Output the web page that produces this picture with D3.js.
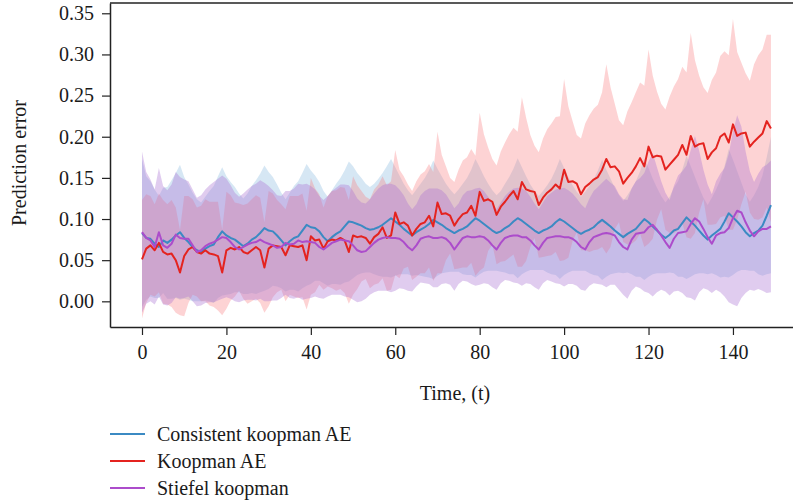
<!DOCTYPE html>
<html><head><meta charset="utf-8">
<script src="https://cdn.jsdelivr.net/npm/d3@7"></script>
<style>
body{margin:0;background:#fff}
svg{display:block}
text{font-family:"Liberation Serif","Times New Roman",serif;fill:#1a1a1a}
</style>
</head><body>
<svg id="chart" width="793" height="503"></svg>
<script>
const seriesNames = ["Consistent koopman AE", "Koopman AE", "Stiefel koopman"];
const yTicks = [0, 0.05, 0.10, 0.15, 0.20, 0.25, 0.30, 0.35];
const xTicks = [0, 20, 40, 60, 80, 100, 120, 140];
const timeSteps = d3.range(150);

const consistentMean = [
0.083,0.077,0.076,0.070,0.066,0.074,0.071,0.075,0.080,0.084,
0.077,0.072,0.066,0.062,0.060,0.064,0.067,0.069,0.078,0.085,
0.080,0.077,0.075,0.071,0.067,0.070,0.075,0.078,0.083,0.089,
0.086,0.085,0.080,0.074,0.068,0.073,0.077,0.079,0.086,0.093,
0.090,0.089,0.085,0.078,0.073,0.078,0.082,0.085,0.091,0.097,
0.096,0.094,0.092,0.089,0.087,0.088,0.090,0.093,0.097,0.101,
0.097,0.093,0.088,0.084,0.080,0.084,0.087,0.090,0.094,0.099,
0.096,0.093,0.089,0.086,0.083,0.086,0.088,0.091,0.096,0.101,
0.098,0.094,0.090,0.086,0.083,0.085,0.089,0.092,0.097,0.101,
0.098,0.094,0.090,0.086,0.083,0.086,0.088,0.091,0.096,0.100,
0.097,0.093,0.089,0.085,0.082,0.085,0.087,0.090,0.095,0.099,
0.095,0.091,0.086,0.082,0.078,0.082,0.085,0.088,0.094,0.100,
0.096,0.091,0.086,0.081,0.077,0.081,0.086,0.088,0.095,0.102,
0.097,0.092,0.086,0.080,0.075,0.080,0.084,0.088,0.097,0.107,
0.102,0.097,0.091,0.084,0.079,0.083,0.086,0.092,0.104,0.117];
const consistentStd = [
0.090,0.075,0.070,0.066,0.062,0.064,0.068,0.072,0.076,0.082,
0.074,0.070,0.066,0.062,0.060,0.063,0.067,0.071,0.074,0.078,
0.072,0.068,0.064,0.060,0.058,0.061,0.065,0.069,0.072,0.076,
0.071,0.066,0.062,0.058,0.056,0.059,0.063,0.067,0.070,0.074,
0.069,0.064,0.060,0.056,0.054,0.057,0.061,0.065,0.068,0.073,
0.068,0.062,0.058,0.054,0.052,0.055,0.059,0.063,0.067,0.072,
0.066,0.060,0.055,0.051,0.049,0.052,0.056,0.060,0.065,0.072,
0.065,0.059,0.054,0.050,0.047,0.050,0.055,0.059,0.064,0.072,
0.065,0.058,0.053,0.049,0.046,0.049,0.054,0.059,0.064,0.073,
0.065,0.058,0.052,0.048,0.045,0.048,0.053,0.058,0.064,0.073,
0.065,0.058,0.052,0.048,0.045,0.048,0.053,0.058,0.064,0.073,
0.065,0.058,0.052,0.047,0.044,0.047,0.052,0.058,0.064,0.074,
0.066,0.058,0.052,0.047,0.043,0.046,0.052,0.058,0.065,0.075,
0.067,0.059,0.052,0.046,0.042,0.046,0.052,0.059,0.067,0.078,
0.070,0.061,0.053,0.046,0.042,0.046,0.053,0.061,0.071,0.083];

const koopmanMean = [
0.051,0.064,0.068,0.062,0.071,0.060,0.057,0.058,0.050,0.035,
0.055,0.063,0.066,0.060,0.058,0.062,0.058,0.057,0.055,0.035,
0.062,0.065,0.063,0.066,0.060,0.058,0.062,0.066,0.062,0.041,
0.064,0.068,0.067,0.066,0.056,0.068,0.067,0.066,0.068,0.050,
0.079,0.074,0.075,0.064,0.073,0.075,0.074,0.077,0.074,0.060,
0.080,0.078,0.079,0.077,0.070,0.078,0.082,0.090,0.077,0.080,
0.108,0.094,0.096,0.092,0.080,0.088,0.094,0.096,0.104,0.091,
0.120,0.106,0.107,0.104,0.092,0.100,0.106,0.108,0.116,0.104,
0.133,0.122,0.124,0.121,0.105,0.115,0.121,0.128,0.134,0.124,
0.145,0.136,0.134,0.133,0.117,0.126,0.132,0.136,0.142,0.137,
0.160,0.145,0.146,0.143,0.130,0.139,0.143,0.148,0.151,0.160,
0.173,0.163,0.164,0.158,0.143,0.150,0.156,0.164,0.174,0.164,
0.188,0.175,0.177,0.176,0.160,0.166,0.172,0.178,0.190,0.178,
0.201,0.188,0.191,0.192,0.173,0.181,0.186,0.200,0.204,0.193,
0.215,0.201,0.204,0.205,0.188,0.194,0.199,0.204,0.219,0.210];
const koopmanStd = [
0.072,0.066,0.060,0.056,0.060,0.063,0.061,0.065,0.064,0.052,
0.073,0.065,0.058,0.054,0.058,0.062,0.063,0.064,0.066,0.052,
0.071,0.064,0.057,0.053,0.057,0.061,0.062,0.063,0.064,0.055,
0.070,0.063,0.056,0.052,0.056,0.060,0.061,0.062,0.063,0.060,
0.071,0.063,0.055,0.050,0.055,0.059,0.061,0.062,0.064,0.063,
0.072,0.063,0.055,0.050,0.054,0.058,0.060,0.062,0.064,0.066,
0.076,0.066,0.056,0.050,0.054,0.058,0.060,0.062,0.063,0.066,
0.086,0.072,0.057,0.046,0.053,0.060,0.065,0.067,0.069,0.073,
0.096,0.081,0.063,0.052,0.060,0.067,0.072,0.075,0.077,0.082,
0.103,0.087,0.068,0.056,0.064,0.072,0.077,0.080,0.082,0.088,
0.110,0.092,0.073,0.059,0.068,0.077,0.083,0.086,0.088,0.094,
0.115,0.097,0.076,0.062,0.071,0.081,0.086,0.090,0.092,0.098,
0.118,0.099,0.078,0.064,0.073,0.083,0.089,0.092,0.095,0.100,
0.125,0.105,0.083,0.068,0.080,0.088,0.092,0.098,0.100,0.106,
0.128,0.102,0.086,0.072,0.080,0.094,0.100,0.102,0.105,0.114];

const stiefelMean = [
0.084,0.077,0.074,0.066,0.084,0.068,0.065,0.070,0.081,0.077,
0.076,0.076,0.068,0.060,0.062,0.067,0.070,0.072,0.075,0.078,
0.077,0.072,0.066,0.063,0.066,0.069,0.071,0.072,0.075,0.072,
0.070,0.068,0.065,0.066,0.071,0.069,0.070,0.074,0.072,0.073,
0.072,0.071,0.066,0.063,0.067,0.071,0.073,0.075,0.074,0.073,
0.068,0.062,0.060,0.061,0.066,0.071,0.075,0.077,0.078,0.077,
0.077,0.076,0.072,0.066,0.062,0.068,0.076,0.078,0.079,0.077,
0.077,0.078,0.076,0.071,0.063,0.070,0.077,0.079,0.078,0.078,
0.079,0.078,0.074,0.068,0.063,0.071,0.077,0.079,0.080,0.080,
0.078,0.078,0.074,0.068,0.063,0.071,0.077,0.078,0.079,0.079,
0.078,0.078,0.076,0.072,0.066,0.063,0.072,0.078,0.080,0.082,
0.083,0.082,0.080,0.072,0.066,0.063,0.075,0.082,0.083,0.084,
0.090,0.093,0.087,0.080,0.072,0.065,0.076,0.083,0.084,0.085,
0.094,0.101,0.097,0.088,0.078,0.070,0.080,0.083,0.084,0.089,
0.101,0.110,0.108,0.096,0.086,0.079,0.085,0.088,0.088,0.091];
const stiefelStd = [
0.098,0.080,0.074,0.070,0.078,0.072,0.070,0.072,0.076,0.074,
0.072,0.070,0.068,0.066,0.067,0.069,0.071,0.073,0.074,0.075,
0.072,0.069,0.066,0.064,0.065,0.067,0.069,0.071,0.072,0.072,
0.070,0.067,0.064,0.062,0.063,0.065,0.067,0.069,0.070,0.070,
0.068,0.065,0.062,0.060,0.061,0.063,0.065,0.067,0.068,0.068,
0.066,0.063,0.060,0.058,0.058,0.060,0.062,0.064,0.065,0.066,
0.064,0.060,0.057,0.053,0.050,0.050,0.053,0.056,0.058,0.060,
0.060,0.057,0.054,0.051,0.050,0.049,0.052,0.055,0.057,0.059,
0.059,0.056,0.053,0.051,0.049,0.049,0.051,0.054,0.057,0.058,
0.059,0.056,0.053,0.051,0.049,0.049,0.051,0.054,0.057,0.058,
0.060,0.057,0.055,0.053,0.052,0.050,0.053,0.056,0.059,0.062,
0.066,0.062,0.060,0.058,0.058,0.060,0.062,0.064,0.067,0.072,
0.080,0.087,0.076,0.066,0.060,0.058,0.064,0.070,0.074,0.080,
0.090,0.100,0.086,0.072,0.064,0.060,0.066,0.072,0.078,0.090,
0.105,0.116,0.104,0.086,0.072,0.066,0.070,0.075,0.078,0.080];

const lineColors = ["#3b8ac3", "#e4231f", "#ac4ccb"];
const bandColors = ["rgb(120,175,220)", "rgb(250,120,125)", "rgb(170,115,210)"];
const bandOpacity = [0.3, 0.33, 0.36];

const svg = d3.select("#chart");
const L = 110, R = 795, T = 3, B = 327;
const x = d3.scaleLinear().domain([-7.58, 154.7]).range([L, R]);
const y = d3.scaleLinear().domain([-0.0312, 0.3625]).range([B, T]);

const series = [
  {mean: consistentMean, sd: consistentStd},
  {mean: koopmanMean, sd: koopmanStd},
  {mean: stiefelMean, sd: stiefelStd}
];

const area = d3.area().x((d) => x(d.t)).y0((d) => y(d.lo)).y1((d) => y(d.hi));
const line = d3.line().x((d) => x(d.t)).y((d) => y(d.m));

series.forEach((s, i) => {
  const pts = timeSteps.map((t) => ({t, lo: s.mean[t] - s.sd[t], hi: s.mean[t] + s.sd[t]}));
  svg.append("path").attr("d", area(pts)).attr("fill", bandColors[i]).attr("fill-opacity", bandOpacity[i]);
});
series.forEach((s, i) => {
  const pts = timeSteps.map((t) => ({t, m: s.mean[t]}));
  svg.append("path").attr("d", line(pts)).attr("fill", "none")
    .attr("stroke", lineColors[i]).attr("stroke-width", 2).attr("stroke-linejoin", "round");
});

// axes
const yAxis = svg.append("g").attr("transform", `translate(${L},0)`)
  .call(d3.axisLeft(y).tickValues(yTicks).tickFormat(d3.format(".2f")).tickSize(8).tickPadding(8).tickSizeOuter(0));
const xAxis = svg.append("g").attr("transform", `translate(0,${B})`)
  .call(d3.axisBottom(x).tickValues(xTicks).tickFormat(d3.format("d")).tickSize(8).tickPadding(10).tickSizeOuter(0));
[yAxis, xAxis].forEach((g) => {
  g.selectAll(".domain").attr("stroke", "#222").attr("stroke-width", 1.5);
  g.selectAll(".tick line").attr("stroke", "#222").attr("stroke-width", 1.2);
  g.selectAll(".tick text").attr("font-size", 20).attr("fill", "#1a1a1a")
    .attr("font-family", '"Liberation Serif","Times New Roman",serif');
});
svg.append("line").attr("x1", L).attr("x2", R).attr("y1", T).attr("y2", T)
  .attr("stroke", "#222").attr("stroke-width", 1.5);

svg.append("text").attr("x", 455).attr("y", 400).attr("text-anchor", "middle")
  .attr("font-size", 20).text("Time, (t)");
svg.append("text").attr("transform", "translate(26,163) rotate(-90)").attr("text-anchor", "middle")
  .attr("font-size", 20).text("Prediction error");

// legend
const lg = svg.append("g");
seriesNames.forEach((name, i) => {
  const yy = 434 + i * 27;
  lg.append("line").attr("x1", 110).attr("x2", 145).attr("y1", yy).attr("y2", yy)
    .attr("stroke", lineColors[i]).attr("stroke-width", 2);
  lg.append("text").attr("x", 157).attr("y", yy).attr("dy", "0.33em")
    .attr("font-size", 20).text(name);
});
</script>
</body></html>
